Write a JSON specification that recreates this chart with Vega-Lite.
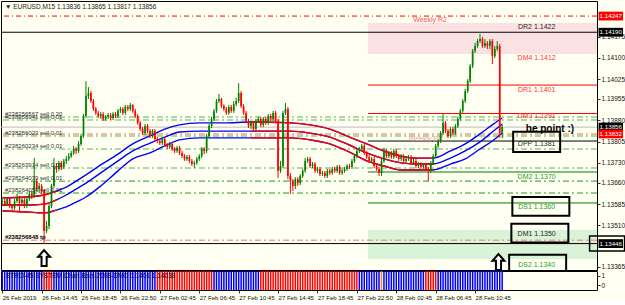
{
"$schema": "https://vega.github.io/schema/vega-lite/v6.json",
"background": "#fffff2",
"padding": {"left": 0, "top": 0, "right": 0, "bottom": 0},
"spacing": 1,
"bounds": "flush",
"config": {
  "view": {"stroke": "#000000", "strokeWidth": 1, "fill": "#fffff2"},
  "axis": {"labelFont": "Liberation Sans", "labelFontSize": 7, "labelColor": "#111111", "tickColor": "#333333", "domainColor": "#000000", "grid": false, "tickSize": 3},
  "text": {"font": "Liberation Sans", "fontSize": 7}
},
"datasets": {
"c": [
{"i":0,"o":1.13592,"h":1.13603,"l":1.13585,"c":1.13596,"s":"b"},
{"i":1,"o":1.13596,"h":1.13603,"l":1.13578,"c":1.13585,"s":"b"},
{"i":2,"o":1.13585,"h":1.1361,"l":1.13578,"c":1.13603,"s":"b"},
{"i":3,"o":1.13603,"h":1.13607,"l":1.13571,"c":1.13578,"s":"b"},
{"i":4,"o":1.13578,"h":1.13585,"l":1.13561,"c":1.13571,"s":"b"},
{"i":5,"o":1.13571,"h":1.13603,"l":1.13564,"c":1.13596,"s":"b"},
{"i":6,"o":1.13596,"h":1.13621,"l":1.13589,"c":1.1361,"s":"b"},
{"i":7,"o":1.1361,"h":1.13614,"l":1.13554,"c":1.13589,"s":"b"},
{"i":8,"o":1.13589,"h":1.13607,"l":1.13582,"c":1.136,"s":"b"},
{"i":9,"o":1.136,"h":1.13607,"l":1.13571,"c":1.13578,"s":"b"},
{"i":10,"o":1.13578,"h":1.1361,"l":1.13571,"c":1.13603,"s":"b"},
{"i":11,"o":1.13603,"h":1.13631,"l":1.13596,"c":1.13621,"s":"b"},
{"i":12,"o":1.13621,"h":1.13631,"l":1.13603,"c":1.13614,"s":"b"},
{"i":13,"o":1.13614,"h":1.13747,"l":1.13607,"c":1.13666,"s":"b"},
{"i":14,"o":1.13666,"h":1.13673,"l":1.13631,"c":1.13638,"s":"b"},
{"i":15,"o":1.13638,"h":1.13659,"l":1.13624,"c":1.13649,"s":"b"},
{"i":16,"o":1.13649,"h":1.13656,"l":1.13621,"c":1.13631,"s":"b"},
{"i":17,"o":1.13631,"h":1.13638,"l":1.13445,"c":1.1349,"s":"r"},
{"i":18,"o":1.1349,"h":1.13526,"l":1.13483,"c":1.13508,"s":"r"},
{"i":19,"o":1.13508,"h":1.13585,"l":1.13497,"c":1.13578,"s":"r"},
{"i":20,"o":1.13578,"h":1.13656,"l":1.13571,"c":1.13649,"s":"r"},
{"i":21,"o":1.13649,"h":1.13747,"l":1.13642,"c":1.13719,"s":"b"},
{"i":22,"o":1.13719,"h":1.1373,"l":1.13695,"c":1.13709,"s":"b"},
{"i":23,"o":1.13709,"h":1.13737,"l":1.13702,"c":1.1373,"s":"b"},
{"i":24,"o":1.1373,"h":1.13737,"l":1.13705,"c":1.13716,"s":"b"},
{"i":25,"o":1.13716,"h":1.13744,"l":1.13709,"c":1.13737,"s":"b"},
{"i":26,"o":1.13737,"h":1.13754,"l":1.13726,"c":1.13744,"s":"b"},
{"i":27,"o":1.13744,"h":1.13765,"l":1.13737,"c":1.13754,"s":"b"},
{"i":28,"o":1.13754,"h":1.13772,"l":1.13747,"c":1.13765,"s":"b"},
{"i":29,"o":1.13765,"h":1.1379,"l":1.13758,"c":1.13779,"s":"b"},
{"i":30,"o":1.13779,"h":1.13786,"l":1.13761,"c":1.13772,"s":"b"},
{"i":31,"o":1.13772,"h":1.13807,"l":1.13765,"c":1.13797,"s":"b"},
{"i":32,"o":1.13797,"h":1.13832,"l":1.1379,"c":1.13825,"s":"b"},
{"i":33,"o":1.13825,"h":1.13902,"l":1.13818,"c":1.13895,"s":"b"},
{"i":34,"o":1.13895,"h":1.14018,"l":1.13888,"c":1.13966,"s":"b"},
{"i":35,"o":1.13966,"h":1.13997,"l":1.13955,"c":1.13976,"s":"b"},
{"i":36,"o":1.13976,"h":1.13983,"l":1.13941,"c":1.13948,"s":"b"},
{"i":37,"o":1.13948,"h":1.13955,"l":1.13913,"c":1.1392,"s":"b"},
{"i":38,"o":1.1392,"h":1.13927,"l":1.13899,"c":1.13906,"s":"b"},
{"i":39,"o":1.13906,"h":1.13913,"l":1.13888,"c":1.13895,"s":"b"},
{"i":40,"o":1.13895,"h":1.13909,"l":1.13885,"c":1.13902,"s":"b"},
{"i":41,"o":1.13902,"h":1.13909,"l":1.13878,"c":1.13885,"s":"b"},
{"i":42,"o":1.13885,"h":1.13899,"l":1.13878,"c":1.13892,"s":"b"},
{"i":43,"o":1.13892,"h":1.13906,"l":1.13885,"c":1.13899,"s":"b"},
{"i":44,"o":1.13899,"h":1.13906,"l":1.13881,"c":1.13888,"s":"b"},
{"i":45,"o":1.13888,"h":1.13909,"l":1.13881,"c":1.13902,"s":"b"},
{"i":46,"o":1.13902,"h":1.13909,"l":1.13888,"c":1.13895,"s":"b"},
{"i":47,"o":1.13895,"h":1.1392,"l":1.13888,"c":1.13913,"s":"b"},
{"i":48,"o":1.13913,"h":1.13927,"l":1.13906,"c":1.1392,"s":"b"},
{"i":49,"o":1.1392,"h":1.13927,"l":1.13899,"c":1.13906,"s":"b"},
{"i":50,"o":1.13906,"h":1.13934,"l":1.13899,"c":1.13927,"s":"b"},
{"i":51,"o":1.13927,"h":1.13934,"l":1.13913,"c":1.1392,"s":"b"},
{"i":52,"o":1.1392,"h":1.13941,"l":1.13913,"c":1.13934,"s":"b"},
{"i":53,"o":1.13934,"h":1.13937,"l":1.13906,"c":1.13913,"s":"b"},
{"i":54,"o":1.13913,"h":1.1392,"l":1.13888,"c":1.13895,"s":"b"},
{"i":55,"o":1.13895,"h":1.13902,"l":1.13864,"c":1.13871,"s":"b"},
{"i":56,"o":1.13871,"h":1.13878,"l":1.13842,"c":1.13849,"s":"b"},
{"i":57,"o":1.13849,"h":1.13856,"l":1.13828,"c":1.13835,"s":"b"},
{"i":58,"o":1.13835,"h":1.13867,"l":1.13828,"c":1.1386,"s":"b"},
{"i":59,"o":1.1386,"h":1.13867,"l":1.13835,"c":1.13842,"s":"b"},
{"i":60,"o":1.13842,"h":1.13849,"l":1.13818,"c":1.13825,"s":"b"},
{"i":61,"o":1.13825,"h":1.13849,"l":1.13818,"c":1.13842,"s":"b"},
{"i":62,"o":1.13842,"h":1.13849,"l":1.13807,"c":1.13814,"s":"b"},
{"i":63,"o":1.13814,"h":1.13821,"l":1.138,"c":1.13807,"s":"r"},
{"i":64,"o":1.13807,"h":1.13814,"l":1.13793,"c":1.138,"s":"r"},
{"i":65,"o":1.138,"h":1.13821,"l":1.13793,"c":1.13814,"s":"r"},
{"i":66,"o":1.13814,"h":1.13821,"l":1.13786,"c":1.13793,"s":"r"},
{"i":67,"o":1.13793,"h":1.138,"l":1.13779,"c":1.13786,"s":"r"},
{"i":68,"o":1.13786,"h":1.13804,"l":1.13779,"c":1.13797,"s":"r"},
{"i":69,"o":1.13797,"h":1.13804,"l":1.13772,"c":1.13779,"s":"r"},
{"i":70,"o":1.13779,"h":1.13786,"l":1.13765,"c":1.13772,"s":"r"},
{"i":71,"o":1.13772,"h":1.1379,"l":1.13765,"c":1.13783,"s":"r"},
{"i":72,"o":1.13783,"h":1.1379,"l":1.13758,"c":1.13765,"s":"r"},
{"i":73,"o":1.13765,"h":1.13772,"l":1.13747,"c":1.13754,"s":"r"},
{"i":74,"o":1.13754,"h":1.13761,"l":1.13737,"c":1.13744,"s":"r"},
{"i":75,"o":1.13744,"h":1.13758,"l":1.13737,"c":1.13751,"s":"r"},
{"i":76,"o":1.13751,"h":1.13758,"l":1.1373,"c":1.13737,"s":"r"},
{"i":77,"o":1.13737,"h":1.13744,"l":1.13719,"c":1.13726,"s":"r"},
{"i":78,"o":1.13726,"h":1.13737,"l":1.13712,"c":1.1373,"s":"r"},
{"i":79,"o":1.1373,"h":1.13751,"l":1.13723,"c":1.13744,"s":"r"},
{"i":80,"o":1.13744,"h":1.13761,"l":1.13737,"c":1.13754,"s":"r"},
{"i":81,"o":1.13754,"h":1.13786,"l":1.13747,"c":1.13779,"s":"r"},
{"i":82,"o":1.13779,"h":1.13786,"l":1.13761,"c":1.13772,"s":"r"},
{"i":83,"o":1.13772,"h":1.13832,"l":1.13765,"c":1.13825,"s":"r"},
{"i":84,"o":1.13825,"h":1.13867,"l":1.13818,"c":1.1386,"s":"r"},
{"i":85,"o":1.1386,"h":1.13892,"l":1.13853,"c":1.13885,"s":"r"},
{"i":86,"o":1.13885,"h":1.1392,"l":1.13878,"c":1.13913,"s":"b"},
{"i":87,"o":1.13913,"h":1.13955,"l":1.13906,"c":1.13948,"s":"b"},
{"i":88,"o":1.13948,"h":1.13973,"l":1.13941,"c":1.13955,"s":"b"},
{"i":89,"o":1.13955,"h":1.13959,"l":1.13923,"c":1.1393,"s":"b"},
{"i":90,"o":1.1393,"h":1.13937,"l":1.13913,"c":1.1392,"s":"b"},
{"i":91,"o":1.1392,"h":1.13927,"l":1.13899,"c":1.13906,"s":"b"},
{"i":92,"o":1.13906,"h":1.13934,"l":1.13899,"c":1.13927,"s":"b"},
{"i":93,"o":1.13927,"h":1.13934,"l":1.13906,"c":1.13913,"s":"b"},
{"i":94,"o":1.13913,"h":1.13948,"l":1.13906,"c":1.13937,"s":"b"},
{"i":95,"o":1.13937,"h":1.13959,"l":1.1393,"c":1.13948,"s":"b"},
{"i":96,"o":1.13948,"h":1.14011,"l":1.13941,"c":1.13976,"s":"b"},
{"i":97,"o":1.13976,"h":1.13983,"l":1.13923,"c":1.1393,"s":"b"},
{"i":98,"o":1.1393,"h":1.13937,"l":1.13899,"c":1.13906,"s":"b"},
{"i":99,"o":1.13906,"h":1.13913,"l":1.13871,"c":1.13878,"s":"b"},
{"i":100,"o":1.13878,"h":1.13885,"l":1.13853,"c":1.1386,"s":"b"},
{"i":101,"o":1.1386,"h":1.13878,"l":1.13849,"c":1.13871,"s":"b"},
{"i":102,"o":1.13871,"h":1.13878,"l":1.13842,"c":1.13849,"s":"b"},
{"i":103,"o":1.13849,"h":1.13885,"l":1.13842,"c":1.13878,"s":"b"},
{"i":104,"o":1.13878,"h":1.13892,"l":1.13871,"c":1.13885,"s":"b"},
{"i":105,"o":1.13885,"h":1.13892,"l":1.13856,"c":1.13864,"s":"r"},
{"i":106,"o":1.13864,"h":1.13892,"l":1.13856,"c":1.13885,"s":"r"},
{"i":107,"o":1.13885,"h":1.13892,"l":1.13864,"c":1.13871,"s":"r"},
{"i":108,"o":1.13871,"h":1.13902,"l":1.13864,"c":1.13895,"s":"r"},
{"i":109,"o":1.13895,"h":1.13902,"l":1.13878,"c":1.13885,"s":"r"},
{"i":110,"o":1.13885,"h":1.13913,"l":1.13878,"c":1.13906,"s":"r"},
{"i":111,"o":1.13906,"h":1.13913,"l":1.13871,"c":1.13878,"s":"r"},
{"i":112,"o":1.13878,"h":1.13885,"l":1.13677,"c":1.13702,"s":"r"},
{"i":113,"o":1.13702,"h":1.13737,"l":1.13695,"c":1.13719,"s":"r"},
{"i":114,"o":1.13719,"h":1.13913,"l":1.13712,"c":1.13906,"s":"r"},
{"i":115,"o":1.13906,"h":1.13941,"l":1.13899,"c":1.1392,"s":"r"},
{"i":116,"o":1.1392,"h":1.13927,"l":1.13673,"c":1.13684,"s":"r"},
{"i":117,"o":1.13684,"h":1.13695,"l":1.13621,"c":1.13666,"s":"r"},
{"i":118,"o":1.13666,"h":1.13673,"l":1.13631,"c":1.13649,"s":"r"},
{"i":119,"o":1.13649,"h":1.1368,"l":1.13638,"c":1.13673,"s":"r"},
{"i":120,"o":1.13673,"h":1.1368,"l":1.13649,"c":1.13659,"s":"r"},
{"i":121,"o":1.13659,"h":1.13691,"l":1.13652,"c":1.13684,"s":"r"},
{"i":122,"o":1.13684,"h":1.13709,"l":1.13677,"c":1.13702,"s":"r"},
{"i":123,"o":1.13702,"h":1.13747,"l":1.13695,"c":1.13737,"s":"r"},
{"i":124,"o":1.13737,"h":1.13751,"l":1.1373,"c":1.13744,"s":"r"},
{"i":125,"o":1.13744,"h":1.13751,"l":1.13712,"c":1.13719,"s":"r"},
{"i":126,"o":1.13719,"h":1.13733,"l":1.13712,"c":1.13726,"s":"r"},
{"i":127,"o":1.13726,"h":1.13733,"l":1.13695,"c":1.13702,"s":"r"},
{"i":128,"o":1.13702,"h":1.13716,"l":1.13695,"c":1.13709,"s":"r"},
{"i":129,"o":1.13709,"h":1.13716,"l":1.13684,"c":1.13691,"s":"r"},
{"i":130,"o":1.13691,"h":1.13702,"l":1.13684,"c":1.13695,"s":"r"},
{"i":131,"o":1.13695,"h":1.13702,"l":1.13677,"c":1.13684,"s":"r"},
{"i":132,"o":1.13684,"h":1.13709,"l":1.13677,"c":1.13702,"s":"r"},
{"i":133,"o":1.13702,"h":1.13709,"l":1.13688,"c":1.13695,"s":"r"},
{"i":134,"o":1.13695,"h":1.13716,"l":1.13688,"c":1.13709,"s":"r"},
{"i":135,"o":1.13709,"h":1.13716,"l":1.13695,"c":1.13702,"s":"r"},
{"i":136,"o":1.13702,"h":1.13723,"l":1.13695,"c":1.13716,"s":"r"},
{"i":137,"o":1.13716,"h":1.13723,"l":1.13688,"c":1.13695,"s":"r"},
{"i":138,"o":1.13695,"h":1.13709,"l":1.13688,"c":1.13702,"s":"r"},
{"i":139,"o":1.13702,"h":1.13716,"l":1.13695,"c":1.13709,"s":"r"},
{"i":140,"o":1.13709,"h":1.13726,"l":1.13702,"c":1.13719,"s":"r"},
{"i":141,"o":1.13719,"h":1.13726,"l":1.13709,"c":1.13716,"s":"r"},
{"i":142,"o":1.13716,"h":1.13744,"l":1.13709,"c":1.13737,"s":"r"},
{"i":143,"o":1.13737,"h":1.13761,"l":1.1373,"c":1.13754,"s":"r"},
{"i":144,"o":1.13754,"h":1.13779,"l":1.13747,"c":1.13772,"s":"r"},
{"i":145,"o":1.13772,"h":1.13786,"l":1.13765,"c":1.13779,"s":"b"},
{"i":146,"o":1.13779,"h":1.13797,"l":1.13772,"c":1.1379,"s":"b"},
{"i":147,"o":1.1379,"h":1.13797,"l":1.13758,"c":1.13765,"s":"b"},
{"i":148,"o":1.13765,"h":1.13772,"l":1.13744,"c":1.13751,"s":"b"},
{"i":149,"o":1.13751,"h":1.13758,"l":1.1373,"c":1.13737,"s":"b"},
{"i":150,"o":1.13737,"h":1.13751,"l":1.1373,"c":1.13744,"s":"b"},
{"i":151,"o":1.13744,"h":1.13751,"l":1.13712,"c":1.13719,"s":"b"},
{"i":152,"o":1.13719,"h":1.13726,"l":1.13702,"c":1.13709,"s":"b"},
{"i":153,"o":1.13709,"h":1.13716,"l":1.13684,"c":1.13695,"s":"b"},
{"i":154,"o":1.13695,"h":1.13744,"l":1.13684,"c":1.13737,"s":"o"},
{"i":155,"o":1.13737,"h":1.13783,"l":1.1373,"c":1.13772,"s":"b"},
{"i":156,"o":1.13772,"h":1.13779,"l":1.13747,"c":1.13754,"s":"b"},
{"i":157,"o":1.13754,"h":1.13772,"l":1.13747,"c":1.13765,"s":"b"},
{"i":158,"o":1.13765,"h":1.13772,"l":1.13744,"c":1.13751,"s":"b"},
{"i":159,"o":1.13751,"h":1.13779,"l":1.13744,"c":1.13772,"s":"b"},
{"i":160,"o":1.13772,"h":1.13779,"l":1.13747,"c":1.13754,"s":"b"},
{"i":161,"o":1.13754,"h":1.13761,"l":1.13737,"c":1.13744,"s":"b"},
{"i":162,"o":1.13744,"h":1.13761,"l":1.13737,"c":1.13754,"s":"b"},
{"i":163,"o":1.13754,"h":1.13761,"l":1.1373,"c":1.13737,"s":"b"},
{"i":164,"o":1.13737,"h":1.13751,"l":1.1373,"c":1.13744,"s":"b"},
{"i":165,"o":1.13744,"h":1.13758,"l":1.13737,"c":1.13751,"s":"b"},
{"i":166,"o":1.13751,"h":1.13758,"l":1.13723,"c":1.1373,"s":"b"},
{"i":167,"o":1.1373,"h":1.13744,"l":1.13723,"c":1.13737,"s":"b"},
{"i":168,"o":1.13737,"h":1.13744,"l":1.13712,"c":1.13719,"s":"b"},
{"i":169,"o":1.13719,"h":1.13733,"l":1.13712,"c":1.13726,"s":"b"},
{"i":170,"o":1.13726,"h":1.13733,"l":1.13709,"c":1.13716,"s":"b"},
{"i":171,"o":1.13716,"h":1.1373,"l":1.13709,"c":1.13723,"s":"b"},
{"i":172,"o":1.13723,"h":1.1373,"l":1.13702,"c":1.13709,"s":"r"},
{"i":173,"o":1.13709,"h":1.13716,"l":1.13666,"c":1.13702,"s":"r"},
{"i":174,"o":1.13702,"h":1.13737,"l":1.13695,"c":1.1373,"s":"r"},
{"i":175,"o":1.1373,"h":1.13761,"l":1.13723,"c":1.13754,"s":"r"},
{"i":176,"o":1.13754,"h":1.13797,"l":1.13747,"c":1.1379,"s":"r"},
{"i":177,"o":1.1379,"h":1.13814,"l":1.13783,"c":1.13807,"s":"b"},
{"i":178,"o":1.13807,"h":1.13842,"l":1.138,"c":1.13835,"s":"b"},
{"i":179,"o":1.13835,"h":1.13902,"l":1.13828,"c":1.13871,"s":"b"},
{"i":180,"o":1.13871,"h":1.13878,"l":1.13835,"c":1.13842,"s":"b"},
{"i":181,"o":1.13842,"h":1.13849,"l":1.13818,"c":1.13825,"s":"b"},
{"i":182,"o":1.13825,"h":1.13856,"l":1.13818,"c":1.13849,"s":"b"},
{"i":183,"o":1.13849,"h":1.13856,"l":1.13828,"c":1.13835,"s":"b"},
{"i":184,"o":1.13835,"h":1.13867,"l":1.13828,"c":1.1386,"s":"b"},
{"i":185,"o":1.1386,"h":1.13892,"l":1.13853,"c":1.13885,"s":"b"},
{"i":186,"o":1.13885,"h":1.1392,"l":1.13878,"c":1.13913,"s":"b"},
{"i":187,"o":1.13913,"h":1.13955,"l":1.13906,"c":1.13948,"s":"b"},
{"i":188,"o":1.13948,"h":1.1399,"l":1.13941,"c":1.13983,"s":"b"},
{"i":189,"o":1.13983,"h":1.14025,"l":1.13976,"c":1.14018,"s":"b"},
{"i":190,"o":1.14018,"h":1.14078,"l":1.14011,"c":1.14071,"s":"b"},
{"i":191,"o":1.14071,"h":1.14131,"l":1.14064,"c":1.14124,"s":"b"},
{"i":192,"o":1.14124,"h":1.14152,"l":1.14117,"c":1.14142,"s":"b"},
{"i":193,"o":1.14142,"h":1.14166,"l":1.14135,"c":1.14159,"s":"b"},
{"i":194,"o":1.14159,"h":1.14184,"l":1.14152,"c":1.14166,"s":"b"},
{"i":195,"o":1.14166,"h":1.14173,"l":1.14135,"c":1.14142,"s":"b"},
{"i":196,"o":1.14142,"h":1.14166,"l":1.14135,"c":1.14152,"s":"b"},
{"i":197,"o":1.14152,"h":1.14159,"l":1.14131,"c":1.14142,"s":"b"},
{"i":198,"o":1.14142,"h":1.14166,"l":1.14131,"c":1.14159,"s":"b"},
{"i":199,"o":1.14159,"h":1.14166,"l":1.14078,"c":1.14106,"s":"b"},
{"i":200,"o":1.14106,"h":1.14142,"l":1.14099,"c":1.14131,"s":"b"},
{"i":201,"o":1.14131,"h":1.14159,"l":1.14124,"c":1.14142,"s":"b"},
{"i":202,"o":1.14142,"h":1.14149,"l":1.13818,"c":1.13836,"s":"b"},
{"i":203,"o":1.13836,"h":1.13865,"l":1.13817,"c":1.13856,"s":"b"}
],
"ma": [
{"i":0,"u":1.13607,"m":1.13582,"l":1.13561},
{"i":10,"u":1.1361,"m":1.13582,"l":1.13557},
{"i":17,"u":1.13617,"m":1.13585,"l":1.13554},
{"i":22,"u":1.13631,"m":1.136,"l":1.13564},
{"i":26,"u":1.13645,"m":1.13617,"l":1.13575},
{"i":30,"u":1.13666,"m":1.13638,"l":1.13592},
{"i":34,"u":1.13688,"m":1.13659,"l":1.1361},
{"i":40,"u":1.13723,"m":1.13695,"l":1.13649},
{"i":47,"u":1.13761,"m":1.13737,"l":1.13702},
{"i":53,"u":1.13797,"m":1.13772,"l":1.13744},
{"i":60,"u":1.13825,"m":1.138,"l":1.13765},
{"i":66,"u":1.13849,"m":1.13821,"l":1.1379},
{"i":72,"u":1.13864,"m":1.13839,"l":1.13811},
{"i":80,"u":1.13871,"m":1.13842,"l":1.13818},
{"i":90,"u":1.13871,"m":1.13842,"l":1.13818},
{"i":101,"u":1.13874,"m":1.13842,"l":1.13818},
{"i":117,"u":1.13871,"m":1.13842,"l":1.13818},
{"i":125,"u":1.13864,"m":1.13835,"l":1.13811},
{"i":133,"u":1.13849,"m":1.13821,"l":1.13797},
{"i":141,"u":1.13821,"m":1.13793,"l":1.13768},
{"i":148,"u":1.13797,"m":1.13765,"l":1.13737},
{"i":155,"u":1.13772,"m":1.13744,"l":1.13719},
{"i":162,"u":1.13754,"m":1.1373,"l":1.13705},
{"i":168,"u":1.13747,"m":1.13726,"l":1.13705},
{"i":175,"u":1.13747,"m":1.13726,"l":1.13705},
{"i":182,"u":1.13772,"m":1.13747,"l":1.13726},
{"i":188,"u":1.13797,"m":1.13772,"l":1.13744},
{"i":194,"u":1.13832,"m":1.13804,"l":1.13779},
{"i":199,"u":1.13864,"m":1.13839,"l":1.13807},
{"i":203,"u":1.13888,"m":1.13867,"l":1.13835}
],
"lv": [
{"p":1.14247,"k":"wr"},
{"p":1.1419,"k":"bk"},
{"p":1.13446,"k":"bk"},
{"p":1.13856,"k":"bid"},
{"p":1.13892,"k":"sa","t":"#238256567 sell 0.20"},
{"p":1.13881,"k":"sa","t":"#238256941 sell 0.01"},
{"p":1.13825,"k":"sa","t":"#238256023 sell 0.01"},
{"p":1.13779,"k":"sa","t":"#238260234 sell 0.01"},
{"p":1.13712,"k":"sa","t":"#238263914 sell 0.01"},
{"p":1.13666,"k":"sb","t":"#238264039 sell 0.01"},
{"p":1.13624,"k":"sb","t":"#238264059 sell 0.01"},
{"p":1.13832,"k":"sl"},
{"p":1.13458,"k":"sl","t":"#238256848 tp"}
],
"pv": [
{"from":148.5,"p":1.14004,"k":"r"},
{"from":148.5,"p":1.13904,"k":"r"},
{"from":148.5,"p":1.13807,"k":"k"},
{"from":148.5,"p":1.13698,"k":"g"},
{"from":148.5,"p":1.13589,"k":"g"}
],
"zn": [
{"from":148.5,"top":1.14223,"bot":1.14113,"z":"p"},
{"from":148.5,"top":1.13494,"bot":1.13392,"z":"g"}
],
"tx": [
{"i":217,"p":1.14208,"t":"DR2 1.1422","k":"n"},
{"i":217,"p":1.14099,"t":"DM4 1.1412","k":"r"},
{"i":217,"p":1.13987,"t":"DR1 1.1401","k":"r"},
{"i":217,"p":1.13895,"t":"DM3 1.1391","k":"r"},
{"i":217,"p":1.13797,"t":"DPP 1.1381","k":"n"},
{"i":217,"p":1.1368,"t":"DM2 1.1370","k":"g"},
{"i":217,"p":1.13575,"t":"DS1 1.1360","k":"g"},
{"i":217,"p":1.1348,"t":"DM1 1.1350","k":"n"},
{"i":217,"p":1.13371,"t":"DS2 1.1340","k":"g"},
{"i":173.7,"p":1.14233,"t":"Weekly R2","k":"w"},
{"i":172,"p":1.13814,"t":"Weekly PP","k":"wp"},
{"i":222.4,"p":1.1385,"t":"be point :)","k":"bp"}
],
"bx": [
{"n":"DPP","i":217,"p":1.13804},
{"n":"DS1","i":218.7,"p":1.13577},
{"n":"DM1","i":218.3,"p":1.13483},
{"n":"DS2","i":217.4,"p":1.13374},
{"n":"AX","i":245.6,"p":1.13446}
],
"ax": [
{"p":1.14247,"t":"1.14247","k":"r"},
{"p":1.1419,"t":"1.14190","k":"k"},
{"p":1.13856,"t":"1.13856","k":"k"},
{"p":1.13832,"t":"1.13832","k":"r"},
{"p":1.13446,"t":"1.13446","k":"k"}
],
"ar": [
{"i":17,"p":1.13395},
{"i":201.5,"p":1.13381}
],
"ttl": [
{"i":1.1,"p":1.14279,"t":"▼ EURUSD,M15  1.13836 1.13865 1.13817 1.13856"}
]
},
"vconcat": [
{
"width": 596,
"height": 269,
"resolve": {"axis": {"x": "independent", "y": "independent"}},
"layer": [
{"data":{"name":"zn"},"mark":{"type":"rect"},
 "encoding":{
  "x":{"field":"from","type":"quantitative","scale":{"domain":[-0.5,241.5],"nice":false,"zero":false},"axis":null},
  "x2":{"datum":241.5},
  "y":{"field":"top","type":"quantitative","scale":{"domain":[1.13353,1.143],"nice":false,"zero":false},
       "axis":{"orient":"right","title":null,"values":[1.14175,1.141,1.14025,1.13955,1.1388,1.13805,1.1373,1.1366,1.13585,1.1351,1.13365],"format":".5f","labelFontSize":6.5,"tickSize":3,"labelPadding":1,"domain":false,"labelOverlap":false}},
  "y2":{"field":"bot"},
  "color":{"condition":{"test":"datum.z == 'p'","value":"#fbe1e1"},"value":"#d9f3d9"}}},
{"data":{"name":"lv"},"transform":[{"filter":"datum.k == 'wr'"}],"mark":{"type":"rule","color":"#ff0000","strokeWidth":1,"strokeDash":[5,3,1,3],"clip":true},
 "encoding":{"y":{"field":"p","type":"quantitative","scale":{"domain":[1.13353,1.143],"nice":false,"zero":false},"axis":null}}},
{"data":{"name":"lv"},"transform":[{"filter":"datum.k == 'bk'"}],"mark":{"type":"rule","color":"#000000","strokeWidth":1,"clip":true},
 "encoding":{"y":{"field":"p","type":"quantitative","scale":{"domain":[1.13353,1.143],"nice":false,"zero":false},"axis":null}}},
{"data":{"name":"lv"},"transform":[{"filter":"datum.k == 'bid'"}],"mark":{"type":"rule","color":"#bdbdbd","strokeWidth":1,"clip":true},
 "encoding":{"y":{"field":"p","type":"quantitative","scale":{"domain":[1.13353,1.143],"nice":false,"zero":false},"axis":null}}},
{"data":{"name":"lv"},"transform":[{"filter":"datum.k == 'sa'"}],"mark":{"type":"rule","color":"#8fcb8f","strokeWidth":1.5,"strokeDash":[6,3,2,3],"clip":true},
 "encoding":{"y":{"field":"p","type":"quantitative","scale":{"domain":[1.13353,1.143],"nice":false,"zero":false},"axis":null}}},
{"data":{"name":"lv"},"transform":[{"filter":"datum.k == 'sb'"}],"mark":{"type":"rule","color":"#1f9a1f","strokeWidth":1,"strokeDash":[6,3,2,3],"clip":true},
 "encoding":{"y":{"field":"p","type":"quantitative","scale":{"domain":[1.13353,1.143],"nice":false,"zero":false},"axis":null}}},
{"data":{"name":"lv"},"transform":[{"filter":"datum.k == 'sl'"}],"mark":{"type":"rule","color":"#f3a385","strokeWidth":1.5,"strokeDash":[6,3,2,3],"clip":true},
 "encoding":{"y":{"field":"p","type":"quantitative","scale":{"domain":[1.13353,1.143],"nice":false,"zero":false},"axis":null}}},
{"data":{"name":"pv"},"mark":{"type":"rule","strokeWidth":1,"clip":true},
 "encoding":{
  "x":{"field":"from","type":"quantitative","scale":{"domain":[-0.5,241.5],"nice":false,"zero":false},"axis":null},
  "x2":{"datum":241.5},
  "y":{"field":"p","type":"quantitative","scale":{"domain":[1.13353,1.143],"nice":false,"zero":false},"axis":null},
  "color":{"condition":[{"test":"datum.k == 'r'","value":"#ff0000"},{"test":"datum.k == 'g'","value":"#008000"}],"value":"#000000"}}},
{"data":{"name":"tx"},"transform":[{"filter":"datum.k == 'wp'"}],"mark":{"type":"text","fontSize":7,"align":"center","baseline":"middle","color":"#f2a0a0"},
 "encoding":{
  "x":{"field":"i","type":"quantitative","scale":{"domain":[-0.5,241.5],"nice":false,"zero":false},"axis":null},
  "y":{"field":"p","type":"quantitative","scale":{"domain":[1.13353,1.143],"nice":false,"zero":false},"axis":null},
  "text":{"field":"t"}}},
{"data":{"name":"ma"},"transform":[{"fold":["u","m","l"],"as":["b","p"]}],"mark":{"type":"line","color":"#0000ff","strokeWidth":1.4,"interpolate":"monotone","clip":true},
 "encoding":{
  "x":{"field":"i","type":"quantitative","scale":{"domain":[-0.5,241.5],"nice":false,"zero":false},"axis":null},
  "y":{"field":"p","type":"quantitative","scale":{"domain":[1.13353,1.143],"nice":false,"zero":false},"axis":null},
  "detail":{"field":"b","type":"nominal"}}},
{"data":{"name":"ma"},"transform":[{"filter":"datum.i <= 22"},{"fold":["u","m","l"],"as":["b","p"]}],"mark":{"type":"line","color":"#ff0000","strokeWidth":1.4,"interpolate":"monotone","clip":true},
 "encoding":{
  "x":{"field":"i","type":"quantitative","scale":{"domain":[-0.5,241.5],"nice":false,"zero":false},"axis":null},
  "y":{"field":"p","type":"quantitative","scale":{"domain":[1.13353,1.143],"nice":false,"zero":false},"axis":null},
  "detail":{"field":"b","type":"nominal"}}},
{"data":{"name":"ma"},"transform":[{"filter":"datum.i >= 101 && datum.i <= 175"},{"fold":["u","m","l"],"as":["b","p"]}],"mark":{"type":"line","color":"#ff0000","strokeWidth":1.4,"interpolate":"monotone","clip":true},
 "encoding":{
  "x":{"field":"i","type":"quantitative","scale":{"domain":[-0.5,241.5],"nice":false,"zero":false},"axis":null},
  "y":{"field":"p","type":"quantitative","scale":{"domain":[1.13353,1.143],"nice":false,"zero":false},"axis":null},
  "detail":{"field":"b","type":"nominal"}}},
{"data":{"name":"c"},"mark":{"type":"rule","strokeWidth":1,"clip":true},
 "encoding":{
  "x":{"field":"i","type":"quantitative","scale":{"domain":[-0.5,241.5],"nice":false,"zero":false},"axis":null},
  "y":{"field":"l","type":"quantitative","scale":{"domain":[1.13353,1.143],"nice":false,"zero":false},"axis":null},
  "y2":{"field":"h"},
  "color":{"condition":{"test":"datum.c >= datum.o","value":"#008000"},"value":"#ff0000"}}},
{"data":{"name":"c"},"mark":{"type":"rule","strokeWidth":1.7,"clip":true},
 "encoding":{
  "x":{"field":"i","type":"quantitative","scale":{"domain":[-0.5,241.5],"nice":false,"zero":false},"axis":null},
  "y":{"field":"o","type":"quantitative","scale":{"domain":[1.13353,1.143],"nice":false,"zero":false},"axis":null},
  "y2":{"field":"c"},
  "color":{"condition":{"test":"datum.c >= datum.o","value":"#008000"},"value":"#ff0000"}}},
{"data":{"name":"lv"},"transform":[{"filter":"datum.t && datum.k != 'sl'"}],"mark":{"type":"text","fontSize":6,"align":"left","baseline":"bottom","color":"#333333"},
 "encoding":{
  "x":{"datum":1.1,"type":"quantitative","scale":{"domain":[-0.5,241.5],"nice":false,"zero":false},"axis":null},
  "y":{"field":"p","type":"quantitative","scale":{"domain":[1.13353,1.143],"nice":false,"zero":false},"axis":null},
  "text":{"field":"t"}}},
{"data":{"name":"lv"},"transform":[{"filter":"datum.t && datum.k == 'sl'"}],"mark":{"type":"text","fontSize":6,"fontWeight":"bold","align":"left","baseline":"bottom","color":"#000000"},
 "encoding":{
  "x":{"datum":1.1,"type":"quantitative","scale":{"domain":[-0.5,241.5],"nice":false,"zero":false},"axis":null},
  "y":{"field":"p","type":"quantitative","scale":{"domain":[1.13353,1.143],"nice":false,"zero":false},"axis":null},
  "text":{"field":"t"}}},
{"data":{"name":"tx"},"transform":[{"filter":"datum.k != 'wp' && datum.k != 'bp'"}],"mark":{"type":"text","fontSize":7,"align":"center","baseline":"middle"},
 "encoding":{
  "x":{"field":"i","type":"quantitative","scale":{"domain":[-0.5,241.5],"nice":false,"zero":false},"axis":null},
  "y":{"field":"p","type":"quantitative","scale":{"domain":[1.13353,1.143],"nice":false,"zero":false},"axis":null},
  "text":{"field":"t"},
  "color":{"condition":[{"test":"datum.k == 'r'","value":"#ff3333"},{"test":"datum.k == 'g'","value":"#1e9e1e"},{"test":"datum.k == 'w'","value":"#ff5555"}],"value":"#262626"}}},
{"data":{"name":"tx"},"transform":[{"filter":"datum.k == 'bp'"}],"mark":{"type":"text","fontSize":10,"fontWeight":"bold","align":"center","baseline":"middle","color":"#000000"},
 "encoding":{
  "x":{"field":"i","type":"quantitative","scale":{"domain":[-0.5,241.5],"nice":false,"zero":false},"axis":null},
  "y":{"field":"p","type":"quantitative","scale":{"domain":[1.13353,1.143],"nice":false,"zero":false},"axis":null},
  "text":{"field":"t"}}},
{"data":{"name":"bx"},"transform":[{"filter":"datum.n == 'DPP'"}],"mark":{"type":"point","shape":"M-1,-0.43H1V0.43H-1Z","size":2209,"filled":false,"color":"#000000","strokeWidth":2,"opacity":1},
 "encoding":{
  "x":{"field":"i","type":"quantitative","scale":{"domain":[-0.5,241.5],"nice":false,"zero":false},"axis":null},
  "y":{"field":"p","type":"quantitative","scale":{"domain":[1.13353,1.143],"nice":false,"zero":false},"axis":null}}},
{"data":{"name":"bx"},"transform":[{"filter":"datum.n == 'DS1' || datum.n == 'DM1' || datum.n == 'DS2'"}],"mark":{"type":"point","shape":"M-1,-0.33H1V0.33H-1Z","size":3249,"filled":false,"color":"#000000","strokeWidth":2,"opacity":1},
 "encoding":{
  "x":{"field":"i","type":"quantitative","scale":{"domain":[-0.5,241.5],"nice":false,"zero":false},"axis":null},
  "y":{"field":"p","type":"quantitative","scale":{"domain":[1.13353,1.143],"nice":false,"zero":false},"axis":null}}},
{"data":{"name":"bx"},"transform":[{"filter":"datum.n == 'AX'"}],"mark":{"type":"point","shape":"M-1,-0.43H1V0.43H-1Z","size":1225,"filled":false,"color":"#000000","strokeWidth":1.5,"opacity":1},
 "encoding":{
  "x":{"field":"i","type":"quantitative","scale":{"domain":[-0.5,241.5],"nice":false,"zero":false},"axis":null},
  "y":{"field":"p","type":"quantitative","scale":{"domain":[1.13353,1.143],"nice":false,"zero":false},"axis":null}}},
{"data":{"name":"ar"},"mark":{"type":"point","shape":"M0,-1L0.75,-0.15L0.32,-0.15L0.32,1L-0.32,1L-0.32,-0.15L-0.75,-0.15Z","size":256,"filled":true,"fill":"#ffffff","stroke":"#000000","strokeWidth":2,"opacity":1},
 "encoding":{
  "x":{"field":"i","type":"quantitative","scale":{"domain":[-0.5,241.5],"nice":false,"zero":false},"axis":null},
  "y":{"field":"p","type":"quantitative","scale":{"domain":[1.13353,1.143],"nice":false,"zero":false},"axis":null}}},
{"data":{"name":"ax"},"mark":{"type":"point","shape":"M-1,-0.36H1V0.36H-1Z","size":600,"filled":true,"opacity":1,"strokeWidth":0},
 "encoding":{
  "x":{"datum":247.1,"type":"quantitative","scale":{"domain":[-0.5,241.5],"nice":false,"zero":false},"axis":null},
  "y":{"field":"p","type":"quantitative","scale":{"domain":[1.13353,1.143],"nice":false,"zero":false},"axis":null},
  "color":{"condition":{"test":"datum.k == 'r'","value":"#ff0000"},"value":"#000000"}}},
{"data":{"name":"ax"},"mark":{"type":"text","fontSize":6.2,"align":"center","baseline":"middle","color":"#ffffff"},
 "encoding":{
  "x":{"datum":247.1,"type":"quantitative","scale":{"domain":[-0.5,241.5],"nice":false,"zero":false},"axis":null},
  "y":{"field":"p","type":"quantitative","scale":{"domain":[1.13353,1.143],"nice":false,"zero":false},"axis":null},
  "text":{"field":"t"}}},
{"data":{"name":"ttl"},"mark":{"type":"text","fontSize":6.5,"align":"left","baseline":"middle","color":"#202020"},
 "encoding":{
  "x":{"field":"i","type":"quantitative","scale":{"domain":[-0.5,241.5],"nice":false,"zero":false},"axis":null},
  "y":{"field":"p","type":"quantitative","scale":{"domain":[1.13353,1.143],"nice":false,"zero":false},"axis":null},
  "text":{"field":"t"}}}
]
},
{
"width": 596,
"height": 19,
"resolve": {"axis": {"x": "independent", "y": "independent"}},
"layer": [
{"data":{"name":"c"},"mark":{"type":"rule","strokeWidth":1.5,"clip":true},
 "encoding":{
  "x":{"field":"i","type":"quantitative","scale":{"domain":[-0.5,241.5],"nice":false,"zero":false},
       "axis":{"title":null,"values":[0,16,32,48,64,80,96,112,128,144,160,176,192],"labelExpr":"['26 Feb 2019','26 Feb 14:45','26 Feb 18:45','26 Feb 22:50','27 Feb 02:45','27 Feb 06:45','27 Feb 10:45','27 Feb 14:45','27 Feb 18:45','27 Feb 22:50','28 Feb 02:45','28 Feb 06:45','28 Feb 10:45'][round(datum.value/16)]","labelAlign":"left","labelFlush":false,"labelOverlap":false,"labelFontSize":6,"labelPadding":1,"tickSize":3,"domain":false}},
  "y":{"datum":0,"type":"quantitative","scale":{"domain":[0,1],"nice":false,"zero":false},
       "axis":{"title":null,"orient":"right","values":[0.26,0.74],"labelExpr":"datum.value > 0.5 ? '1' : '0'","tickSize":3,"domain":false,"labelFontSize":6.5,"labelPadding":1}},
  "y2":{"datum":1},
  "color":{"condition":[{"test":"datum.s == 'r'","value":"#ff0000"},{"test":"datum.s == 'o'","value":"#ff8c00"}],"value":"#0000ff"}}},
{"data":{"values":[{"i":1.5,"v":0.74,"t":"BTRO-45 SYSTEM Chart Bars 2008-DMO  1.1401  1.14038"}]},
 "mark":{"type":"text","fontSize":6.5,"align":"left","baseline":"middle","color":"#000033"},
 "encoding":{
  "x":{"field":"i","type":"quantitative","scale":{"domain":[-0.5,241.5],"nice":false,"zero":false},"axis":null},
  "y":{"field":"v","type":"quantitative","scale":{"domain":[0,1],"nice":false,"zero":false},"axis":null},
  "text":{"field":"t"}}}
]
}
]
}
